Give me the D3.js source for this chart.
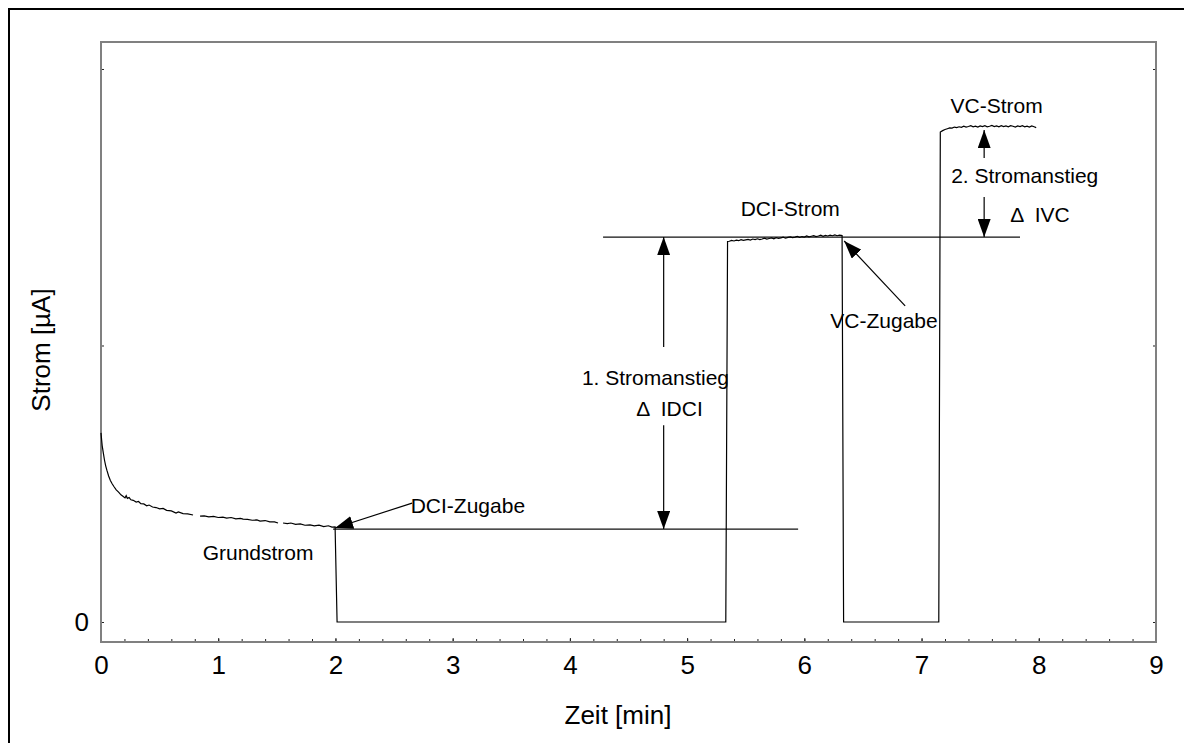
<!DOCTYPE html>
<meta charset="utf-8">
<script src="https://d3js.org/d3.v7.min.js"></script>
<style>
  body { margin: 0; background: #fff; }
  text { font-family: Arial, "Liberation Sans", sans-serif; fill: #000; }
</style>
<svg id="chart" width="1184" height="743"></svg>
<script>

// measured current trace, read off the plot (time in min, current in tick units, null = gap)
// base current (decay before DCI addition)
var baseT = [
  0.000, 0.005, 0.010, 0.020, 0.030, 0.040, 0.050, 0.065, 0.080, 0.095,
  0.110, 0.130, 0.150, 0.170, 0.190, 0.205, 0.215, 0.225, 0.240, 0.255,
  0.275, 0.300, 0.320, 0.340, 0.365, 0.390, 0.410, 0.440, 0.470, 0.500,
  0.530, 0.560, 0.600, 0.640, 0.660, 0.700, 0.740, 0.785, 0.800, 0.845,
  0.880, 0.920, 0.960, 1.000, 1.040, 1.072, 1.110, 1.150, 1.190, 1.212,
  1.250, 1.290, 1.330, 1.357, 1.400, 1.440, 1.480, 1.510, 1.530, 1.553,
  1.590, 1.620, 1.660, 1.700, 1.740, 1.783, 1.820, 1.860, 1.900, 1.940,
  1.970, 1.997
];
var baseI = [
  0.684, 0.660, 0.638, 0.611, 0.585, 0.565, 0.549, 0.528, 0.512, 0.500,
  0.490, 0.478, 0.470, 0.460, 0.454, 0.449, 0.457, 0.447, 0.450, 0.442,
  0.440, 0.434, 0.436, 0.428, 0.427, 0.420, 0.423, 0.416, 0.414, 0.409,
  0.411, 0.404, 0.402, 0.394, 0.398, 0.392, 0.391, 0.387, null,  0.383,
  0.384, 0.380, 0.382, 0.378, 0.379, 0.376, 0.378, 0.373, 0.375, 0.372,
  0.371, 0.368, 0.369, 0.365, 0.367, 0.362, 0.362, 0.358, null,  0.358,
  0.356, 0.358, 0.353, 0.355, 0.350, 0.351, 0.348, 0.350, 0.345, 0.348,
  0.343, 0.344
];
// switching off / on before DCI current
var step1T = [2.014, 5.330, 5.345];
var step1I = [0.000, 0.000, 1.376];
// DCI current plateau
var dciT = [
  5.36, 5.38, 5.40, 5.42, 5.44, 5.46, 5.48, 5.50, 5.52, 5.54,
  5.56, 5.58, 5.60, 5.62, 5.64, 5.66, 5.68, 5.70, 5.72, 5.74,
  5.76, 5.78, 5.80, 5.82, 5.84, 5.86, 5.88, 5.90, 5.92, 5.94,
  5.96, 5.98, 6.00, 6.02, 6.04, 6.06, 6.08, 6.10, 6.12, 6.14,
  6.16, 6.18, 6.20, 6.22, 6.24, 6.26, 6.28, 6.30, 6.322
];
var dciI = [
  1.377, 1.380, 1.378, 1.381, 1.379, 1.383, 1.380, 1.382, 1.384, 1.381,
  1.385, 1.383, 1.386, 1.383, 1.385, 1.388, 1.385, 1.387, 1.389, 1.386,
  1.390, 1.387, 1.389, 1.392, 1.388, 1.391, 1.393, 1.390, 1.392, 1.395,
  1.391, 1.394, 1.392, 1.396, 1.393, 1.395, 1.397, 1.394, 1.396, 1.399,
  1.395, 1.398, 1.396, 1.399, 1.397, 1.400, 1.397, 1.399, 1.398
];
// switching off / on before VC current
var step2T = [6.335, 7.147];
var step2I = [0.000, 0.000];
// VC current plateau
var vcT = [
  7.160, 7.180, 7.200, 7.220, 7.240, 7.260, 7.280, 7.300, 7.320, 7.340,
  7.360, 7.380, 7.400, 7.420, 7.440, 7.460, 7.480, 7.500, 7.520, 7.540,
  7.560, 7.580, 7.600, 7.620, 7.640, 7.660, 7.680, 7.700, 7.720, 7.740,
  7.760, 7.780, 7.800, 7.820, 7.840, 7.860, 7.880, 7.900, 7.920, 7.940,
  7.960, 7.978
];
var vcI = [
  1.772, 1.777, 1.781, 1.784, 1.787, 1.786, 1.790, 1.788, 1.791, 1.789,
  1.793, 1.790, 1.792, 1.795, 1.791, 1.793, 1.790, 1.794, 1.792, 1.795,
  1.791, 1.793, 1.796, 1.792, 1.794, 1.791, 1.795, 1.792, 1.794, 1.791,
  1.795, 1.793, 1.790, 1.794, 1.792, 1.795, 1.791, 1.793, 1.790, 1.794,
  1.791, 1.788
];

// axis ticks
var xMajor = [0, 1, 2, 3, 4, 5, 6, 7, 8, 9];
var xMinor = d3.range(0, 9.01, 0.2);
var yTicks = [0, 1, 2];
var yLabels = ["0", "", ""];

// reference levels: [t start, t end, level]
var levelLines = [
  [1.98, 5.947, 0.336],   // Grundstrom
  [4.283, 7.84, 1.392]    // DCI-Strom
];

// arrows: [t1, I1, t2, I2]  (arrowhead at t2/I2)
var arrows = [
  [4.80, 0.995, 4.80, 1.392],
  [4.80, 0.712, 4.80, 0.336],
  [7.534, 1.678, 7.534, 1.779],
  [7.534, 1.537, 7.534, 1.392],
  [2.654, 0.430, 1.997, 0.340],
  [6.86, 1.143, 6.34, 1.378]
];

// annotation labels: [text, t, I (baseline)]
var labels = [
  ["Grundstrom", 1.34, 0.225],
  ["DCI-Zugabe", 3.13, 0.395],
  ["1. Stromanstieg", 4.73, 0.857],
  ["\u0394  IDCI", 4.85, 0.745],
  ["DCI-Strom", 5.88, 1.468],
  ["VC-Zugabe", 6.68, 1.062],
  ["VC-Strom", 7.64, 1.841],
  ["2. Stromanstieg", 7.88, 1.587],
  ["\u0394  IVC", 8.01, 1.446]
];

var svg = d3.select("#chart");
var mLeft = 101, mRight = 1156, mTop = 42, mBottom = 642;

var x = d3.scaleLinear().domain([0, 9]).range([mLeft, mRight]);
var y = d3.scaleLinear().domain([-0.0723, 2.0976]).range([mBottom, mTop]);

// outer border (runs off the right and bottom edge)
svg.append("rect")
  .attr("x", 9).attr("y", 9).attr("width", 1300).attr("height", 900)
  .attr("fill", "none").attr("stroke", "#000").attr("stroke-width", 2);

// minor ticks bottom
svg.append("g")
  .attr("transform", "translate(0," + mBottom + ")")
  .call(d3.axisBottom(x).tickValues(xMinor).tickSize(-3).tickFormat(""))
  .call(g => g.select(".domain").remove())
  .call(g => g.selectAll("line").attr("stroke", "#222"));

// major ticks bottom
svg.append("g")
  .attr("transform", "translate(0," + mBottom + ")")
  .call(d3.axisBottom(x).tickValues(xMajor).tickSize(-4).tickPadding(14).tickFormat(d3.format("d")))
  .call(g => g.select(".domain").remove())
  .call(g => g.selectAll("line").attr("stroke", "#222"))
  .call(g => g.selectAll("text").style("font-size", "26px").attr("fill", "#000"));

// left axis
svg.append("g")
  .attr("transform", "translate(" + mLeft + ",0)")
  .call(d3.axisLeft(y).tickValues(yTicks).tickSize(-3).tickPadding(12).tickFormat((d, i) => yLabels[i]))
  .call(g => g.select(".domain").remove())
  .call(g => g.selectAll("line").attr("stroke", "#222"))
  .call(g => g.selectAll("text").style("font-size", "26px").attr("fill", "#000"));

// right axis
svg.append("g")
  .attr("transform", "translate(" + mRight + ",0)")
  .call(d3.axisRight(y).tickValues(yTicks).tickSize(-3).tickFormat(""))
  .call(g => g.select(".domain").remove())
  .call(g => g.selectAll("line").attr("stroke", "#222"));

// plot frame
svg.append("rect")
  .attr("x", mLeft).attr("y", mTop)
  .attr("width", mRight - mLeft).attr("height", mBottom - mTop)
  .attr("fill", "none").attr("stroke", "#808080").attr("stroke-width", 2);

// axis titles
svg.append("text")
  .attr("x", 618).attr("y", 724)
  .attr("text-anchor", "middle")
  .style("font-size", "26px")
  .text("Zeit [min]");

svg.append("text")
  .attr("transform", "translate(50," + 350 + ") rotate(-90)")
  .attr("text-anchor", "middle")
  .style("font-size", "26px")
  .text("Strom [\u00b5A]");

// level lines
svg.append("g").selectAll("line")
  .data(levelLines)
  .join("line")
  .attr("x1", d => x(d[0])).attr("x2", d => x(d[1]))
  .attr("y1", d => y(d[2])).attr("y2", d => y(d[2]))
  .attr("stroke", "#111").attr("stroke-width", 1.2);

// data trace
var allT = baseT.concat(step1T, dciT, step2T, vcT);
var allI = baseI.concat(step1I, dciI, step2I, vcI);
var trace = allT.map((t, i) => [t, allI[i]]);
var line = d3.line()
  .defined(d => d[1] !== null)
  .x(d => x(d[0]))
  .y(d => y(d[1]));

svg.append("path")
  .datum(trace)
  .attr("d", line)
  .attr("fill", "none")
  .attr("stroke", "#000")
  .attr("stroke-width", 1.2);

// arrow marker
svg.append("defs").append("marker")
  .attr("id", "head")
  .attr("markerUnits", "userSpaceOnUse")
  .attr("markerWidth", 18).attr("markerHeight", 13)
  .attr("refX", 18).attr("refY", 6.5)
  .attr("orient", "auto")
  .append("path")
  .attr("d", "M0,0 L18,6.5 L0,13 Z")
  .attr("fill", "#000");

svg.append("g").selectAll("line")
  .data(arrows)
  .join("line")
  .attr("x1", d => x(d[0])).attr("y1", d => y(d[1]))
  .attr("x2", d => x(d[2])).attr("y2", d => y(d[3]))
  .attr("stroke", "#000").attr("stroke-width", 1.2)
  .attr("marker-end", "url(#head)");

// annotation labels
svg.append("g").selectAll("text")
  .data(labels)
  .join("text")
  .attr("x", d => x(d[1])).attr("y", d => y(d[2]))
  .attr("text-anchor", "middle")
  .style("font-size", "21px")
  .style("white-space", "pre")
  .text(d => d[0]);

</script>
